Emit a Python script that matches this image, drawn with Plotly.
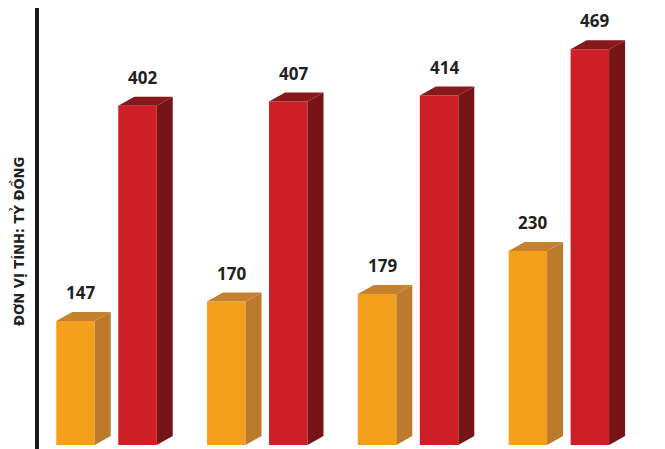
import plotly.graph_objects as go

# ---- data ----
groups = ["Nhóm 1", "Nhóm 2", "Nhóm 3", "Nhóm 4"]
orange_values = [147, 170, 179, 230]
red_values = [402, 407, 414, 469]
axis_title = "ĐƠN VỊ TÍNH: TỶ ĐỒNG"

# ---- styling ----
ORANGE_FRONT = "#F5A01D"
ORANGE_SIDE = "#BC7A2D"
ORANGE_TOP = "#C4822F"
RED_FRONT = "#CE1E26"
RED_SIDE = "#771416"
RED_TOP = "#87181B"
TEXT = "#231F20"

# page has an 8px body margin, so the figure is drawn 8px smaller
W, H = 657, 441
PLOT_H = 437
Y_MAX = 517.8
X_MIN, X_MAX = -0.6533, 3.704
OFFSET = 0.2056
BAR_W = 0.2553
DX = 0.106               # depth in x (data units)
DY = 9 * Y_MAX / PLOT_H  # depth in y (data units)

fig = go.Figure()


def add_series(values, offset, front, side, top, name):
    xs = [i + offset for i in range(len(values))]
    fig.add_trace(go.Bar(x=xs, y=values, width=BAR_W, marker=dict(color=front, line=dict(width=0)),
                         name=name, hoverinfo="skip", showlegend=False))
    sx, sy, tx, ty = [], [], [], []
    for x, v in zip(xs, values):
        xl, xr = x - BAR_W / 2, x + BAR_W / 2
        sx += [xr, xr, xr + DX, xr + DX, xr, None]
        sy += [0, v, v + DY, DY, 0, None]
        tx += [xl, xl + DX, xr + DX, xr, xl, None]
        ty += [v, v + DY, v + DY, v, v, None]
    fig.add_trace(go.Scatter(x=sx, y=sy, mode="lines", fill="toself", fillcolor=side,
                             line=dict(width=0, color=side), hoverinfo="skip", showlegend=False))
    fig.add_trace(go.Scatter(x=tx, y=ty, mode="lines", fill="toself", fillcolor=top,
                             line=dict(width=0, color=top), hoverinfo="skip", showlegend=False))
    for x, v in zip(xs, values):
        fig.add_annotation(x=x + DX / 2 - 0.02, y=v + DY, text=str(v), showarrow=False,
                           yanchor="bottom", yshift=6,
                           font=dict(family="Open Sans, Noto Sans, sans-serif", size=17,
                                     color=TEXT, weight="bold"))


add_series(orange_values, -OFFSET, ORANGE_FRONT, ORANGE_SIDE, ORANGE_TOP, "Cam")
add_series(red_values, OFFSET, RED_FRONT, RED_SIDE, RED_TOP, "Đỏ")

# vertical black rule
fig.add_shape(type="line", xref="paper", yref="paper",
              x0=29 / W, x1=29 / W, y0=-4 / PLOT_H, y1=1.0,
              line=dict(color="#1a1a1a", width=4))

fig.add_annotation(xref="paper", yref="paper", x=10 / W, y=1 - 234 / PLOT_H,
                   xanchor="center", yanchor="middle",
                   text=axis_title, textangle=-90, showarrow=False,
                   font=dict(family="Liberation Sans Narrow, DejaVu Sans Condensed, Roboto, sans-serif",
                             size=14.5, color=TEXT, weight="bold"))

fig.update_layout(
    width=W, height=H,
    margin=dict(l=0, r=0, t=0, b=H - PLOT_H),
    paper_bgcolor="white", plot_bgcolor="white",
    barmode="overlay",
    showlegend=False,
    xaxis=dict(range=[X_MIN, X_MAX], visible=False, fixedrange=True),
    yaxis=dict(range=[0, Y_MAX], visible=False, fixedrange=True),
)

fig.write_html("out.html")
